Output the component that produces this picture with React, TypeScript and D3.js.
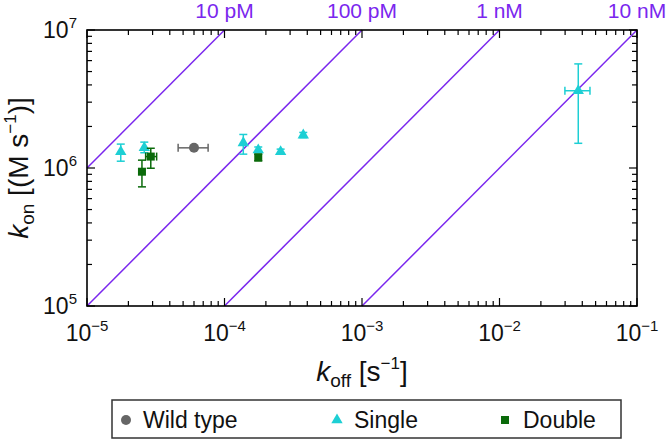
import React from "react";
import * as d3 from "d3";

// ---------- data ----------
const kdValues = [1e-11, 1e-10, 1e-9, 1e-8];
const kdLabels = ["10 pM", "100 pM", "1 nM", "10 nM"];

const xTickExps = [-5, -4, -3, -2, -1];
const yTickExps = [5, 6, 7];

const wildKoff = [6.0e-5];
const wildKon = [1.4e6];
const wildKoffLo = [4.6e-5];
const wildKoffHi = [7.6e-5];

const singleKoff = [1.76e-5, 2.61e-5, 1.37e-4, 1.76e-4, 2.56e-4, 3.74e-4, 0.0374];
const singleKon = [1.31e6, 1.40e6, 1.52e6, 1.35e6, 1.31e6, 1.73e6, 3.63e6];
const singleKonLo = [1.12e6, 1.29e6, 1.26e6, 1.29e6, 1.26e6, 1.66e6, 1.51e6];
const singleKonHi = [1.49e6, 1.54e6, 1.75e6, 1.42e6, 1.37e6, 1.81e6, 5.68e6];
const singleKoffLo = [null, null, null, null, null, null, 0.0299];
const singleKoffHi = [null, null, null, null, null, null, 0.0455];

const doubleKoff = [2.51e-5, 2.91e-5, 1.76e-4];
const doubleKon = [9.4e5, 1.21e6, 1.19e6];
const doubleKonLo = [7.3e5, 9.96e5, 1.13e6];
const doubleKonHi = [1.14e6, 1.39e6, 1.26e6];
const doubleKoffLo = [null, 2.67e-5, null];
const doubleKoffHi = [null, 3.21e-5, null];

const legendLabels = ["Wild type", "Single", "Double"];

// ---------- styles ----------
const W = 668;
const H = 442;
const PL = 87, PR = 637, PT = 30, PB = 306;
const PURPLE = "#7a27ee";
const GRAY = "#666666";
const CYAN = "#1dcfd4";
const GREEN = "#0a6a0a";
const FONT = "Liberation Sans, Arial, Helvetica, sans-serif";

const x = d3.scaleLog().domain([1e-5, 1e-1]).range([PL, PR]);
const y = d3.scaleLog().domain([1e5, 1e7]).range([PB, PT]);

function ErrorBars({ kx, ky, xlo, xhi, ylo, yhi, color }: any) {
  const els: any[] = [];
  const cap = 4;
  kx.forEach((v: number, i: number) => {
    const cx = x(v), cy = y(ky[i]);
    if (ylo && ylo[i] != null) {
      const y1 = y(ylo[i]), y2 = y(yhi[i]);
      els.push(<line key={"v" + i} x1={cx} x2={cx} y1={y1} y2={y2} stroke={color} strokeWidth={1.5} />);
      els.push(<line key={"vc1" + i} x1={cx - cap} x2={cx + cap} y1={y1} y2={y1} stroke={color} strokeWidth={1.5} />);
      els.push(<line key={"vc2" + i} x1={cx - cap} x2={cx + cap} y1={y2} y2={y2} stroke={color} strokeWidth={1.5} />);
    }
    if (xlo && xlo[i] != null) {
      const x1 = x(xlo[i]), x2 = x(xhi[i]);
      els.push(<line key={"h" + i} x1={x1} x2={x2} y1={cy} y2={cy} stroke={color} strokeWidth={1.5} />);
      els.push(<line key={"hc1" + i} x1={x1} x2={x1} y1={cy - cap} y2={cy + cap} stroke={color} strokeWidth={1.5} />);
      els.push(<line key={"hc2" + i} x1={x2} x2={x2} y1={cy - cap} y2={cy + cap} stroke={color} strokeWidth={1.5} />);
    }
  });
  return <g>{els}</g>;
}

const triPath = d3.symbol().type(d3.symbolTriangle).size(56)() as string;
const sqPath = d3.symbol().type(d3.symbolSquare).size(64)() as string;

export default function App() {
  const xMinor: number[] = [];
  for (let e = -5; e < -1; e++) for (let m = 2; m <= 9; m++) xMinor.push(m * Math.pow(10, e));
  const yMinor: number[] = [];
  for (let e = 5; e < 7; e++) for (let m = 2; m <= 9; m++) yMinor.push(m * Math.pow(10, e));

  const lineGen = d3.line<[number, number]>().x((d) => x(d[0])).y((d) => y(d[1]));

  return (
    <svg width={W} height={H} style={{ position: "absolute", left: 0, top: 0 }} fontFamily={FONT}>
      <rect width={W} height={H} fill="#fff" />
      {kdValues.map((kd, i) => {
        const k0 = Math.max(1e-5, kd * 1e5);
        const k1 = Math.min(1e-1, kd * 1e7);
        const pts: [number, number][] = [[k0, k0 / kd], [k1, k1 / kd]];
        return <path key={i} d={lineGen(pts) as string} stroke={PURPLE} strokeWidth={1.5} fill="none" />;
      })}
      {kdValues.map((kd, i) => (
        <text key={"kl" + i} x={x(kd * 1e7)} y={18} fill={PURPLE} fontSize={21} textAnchor="middle">
          {kdLabels[i]}
        </text>
      ))}

      {xMinor.map((v, i) => (
        <g key={"xm" + i}>
          <line x1={x(v)} x2={x(v)} y1={PB} y2={PB - 5} stroke="#000" strokeWidth={1.2} />
          <line x1={x(v)} x2={x(v)} y1={PT} y2={PT + 5} stroke="#000" strokeWidth={1.2} />
        </g>
      ))}
      {yMinor.map((v, i) => (
        <g key={"ym" + i}>
          <line x1={PL} x2={PL + 5} y1={y(v)} y2={y(v)} stroke="#000" strokeWidth={1.2} />
          <line x1={PR} x2={PR - 5} y1={y(v)} y2={y(v)} stroke="#000" strokeWidth={1.2} />
        </g>
      ))}
      {yTickExps.map((e) => (
        <g key={"yM" + e}>
          <line x1={PL} x2={PL + 8} y1={y(Math.pow(10, e))} y2={y(Math.pow(10, e))} stroke="#000" strokeWidth={1.2} />
          <line x1={PR} x2={PR - 8} y1={y(Math.pow(10, e))} y2={y(Math.pow(10, e))} stroke="#000" strokeWidth={1.2} />
        </g>
      ))}
      {xTickExps.map((e) => (
        <g key={"xM" + e}>
          <line x1={x(Math.pow(10, e))} x2={x(Math.pow(10, e))} y1={PB} y2={PB - 8} stroke="#000" strokeWidth={1.2} />
          <line x1={x(Math.pow(10, e))} x2={x(Math.pow(10, e))} y1={PT} y2={PT + 8} stroke="#000" strokeWidth={1.2} />
        </g>
      ))}

      <rect x={PL} y={PT} width={PR - PL} height={PB - PT} fill="none" stroke="#000" strokeWidth={1.6} />

      {xTickExps.map((e) => (
        <text key={"xl" + e} x={x(Math.pow(10, e))} y={341} fontSize={23} textAnchor="middle" fill="#111">
          10<tspan fontSize={15} dy={-10}>{"\u2212" + Math.abs(e)}</tspan>
        </text>
      ))}
      {yTickExps.map((e) => (
        <text key={"yl" + e} x={77} y={y(Math.pow(10, e)) + 8} fontSize={23} textAnchor="end" fill="#111">
          10<tspan fontSize={15} dy={-10}>{e}</tspan>
        </text>
      ))}

      <text x={(PL + PR) / 2} y={381} fontSize={28} textAnchor="middle" fill="#111">
        <tspan fontStyle="italic">k</tspan>
        <tspan fontSize={19} dy={6}>off</tspan>
        <tspan dy={-6}> [s</tspan>
        <tspan fontSize={17} dy={-12}>{"\u22121"}</tspan>
        <tspan dy={12}>]</tspan>
      </text>
      <text transform={`translate(28,${(PT + PB) / 2}) rotate(-90)`} fontSize={28} textAnchor="middle" fill="#111">
        <tspan fontStyle="italic">k</tspan>
        <tspan fontSize={19} dy={6}>on</tspan>
        <tspan dy={-6}> [(M s</tspan>
        <tspan fontSize={17} dy={-12}>{"\u22121"}</tspan>
        <tspan dy={12}>)]</tspan>
      </text>

      <ErrorBars kx={wildKoff} ky={wildKon} xlo={wildKoffLo} xhi={wildKoffHi} color={GRAY} />
      {wildKoff.map((v, i) => (
        <circle key={"w" + i} cx={x(v)} cy={y(wildKon[i])} r={5} fill={GRAY} />
      ))}
      <ErrorBars kx={singleKoff} ky={singleKon} xlo={singleKoffLo} xhi={singleKoffHi} ylo={singleKonLo} yhi={singleKonHi} color={CYAN} />
      {singleKoff.map((v, i) => (
        <path key={"s" + i} d={triPath} transform={`translate(${x(v)},${y(singleKon[i])})`} fill={CYAN} />
      ))}
      <ErrorBars kx={doubleKoff} ky={doubleKon} xlo={doubleKoffLo} xhi={doubleKoffHi} ylo={doubleKonLo} yhi={doubleKonHi} color={GREEN} />
      {doubleKoff.map((v, i) => (
        <path key={"d" + i} d={sqPath} transform={`translate(${x(v)},${y(doubleKon[i])})`} fill={GREEN} />
      ))}

      <rect x={112} y={400} width={509} height={38} fill="#fff" stroke="#333" strokeWidth={1.5} />
      <circle cx={126} cy={420} r={5} fill={GRAY} />
      <text x={143} y={428} fontSize={23} fill="#111">{legendLabels[0]}</text>
      <path d={triPath} transform="translate(337,420)" fill={CYAN} />
      <text x={354} y={428} fontSize={23} fill="#111">{legendLabels[1]}</text>
      <path d={sqPath} transform="translate(505,420)" fill={GREEN} />
      <text x={523} y={428} fontSize={23} fill="#111">{legendLabels[2]}</text>
    </svg>
  );
}
